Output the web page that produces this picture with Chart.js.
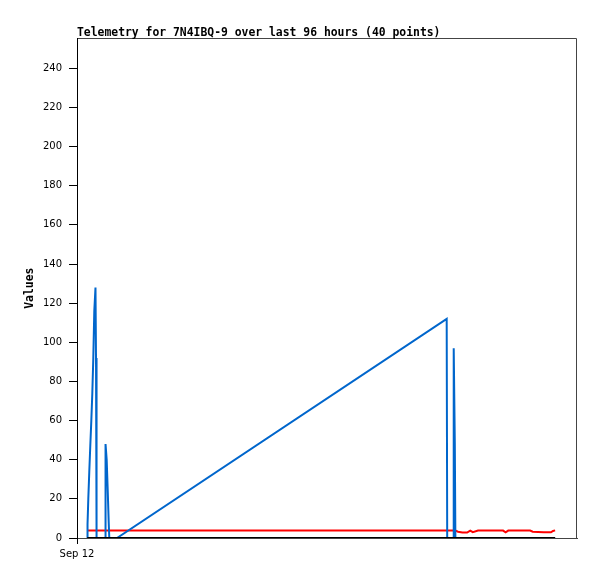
<!DOCTYPE html>
<html>
<head>
<meta charset="utf-8">
<title>Telemetry for 7N4IBQ-9</title>
<script src="https://cdn.jsdelivr.net/npm/chart.js@4.4.1/dist/chart.umd.min.js"></script>
<style>
  html, body { margin: 0; padding: 0; background: #fff; }
  canvas { display: block; }
</style>
</head>
<body>
<canvas id="telemetryChart" width="597" height="579"></canvas>
<script>
// hours since Sep 12 00:00, shared by all three series
const hours = [
  1.96, 2.02, 2.17, 2.36, 2.55, 2.75, 2.94, 3.13, 3.32, 3.55, 3.65, 3.71, 3.80,
  5.38, 5.43, 5.53, 5.70, 5.89, 6.09, 6.20,
  7.68, 70.98, 71.08, 72.23, 72.33, 72.54, 72.65,
  73.15, 74.0, 74.9, 75.5, 76.0, 77.0, 81.8, 82.3, 82.8, 87.0, 87.5, 89.6, 91.0, 91.4, 91.8
];
const blueValues = [
  0, 7, 20, 34, 47, 60, 74, 92, 116, 128, 92, 62, 0,
  0, 25, 48, 40, 25, 8, 0,
  0, 112, 0, 0, 97, 48, 0,
  0, 0, 0, 0, 0, 0, 0, 0, 0, 0, 0, 0, 0, 0, 0
];
const redValues = [
  3.8, 3.8, 3.8, 3.8, 3.8, 3.8, 3.8, 3.8, 3.8, 3.8, 3.8, 3.8, 3.8,
  3.8, 3.8, 3.8, 3.8, 3.8, 3.8, 3.8,
  3.8, 3.8, 3.8, 3.8, 3.8, 3.8, 3.8,
  3.2, 2.8, 2.8, 3.8, 3.0, 3.8, 3.8, 2.9, 3.8, 3.8, 3.2, 2.9, 2.9, 3.6, 3.9
];
const blackValues = [
  0, 0, 0, 0, 0, 0, 0, 0, 0, 0, 0, 0, 0,
  0, 0, 0, 0, 0, 0, 0,
  0, 0, 0, 0, 0, 0, 0,
  0, 0, 0, 0, 0, 0, 0, 0, 0, 0, 0, 0, 0, 0, 0
];
const xTickHours = [0];
const xTickLabels = ['Sep 12'];

const toPoints = vals => hours.map((h, i) => ({ x: h, y: vals[i] }));

// top and right edges of the plot box
const frame = {
  id: 'frame',
  beforeDraw(chart) {
    const { ctx, chartArea: a } = chart;
    ctx.save();
    ctx.strokeStyle = '#444';
    ctx.lineWidth = 1;
    ctx.beginPath();
    ctx.moveTo(Math.round(a.left) + 0.5, Math.round(a.top) + 0.5);
    ctx.lineTo(Math.round(a.right) - 0.5, Math.round(a.top) + 0.5);
    ctx.lineTo(Math.round(a.right) - 0.5, Math.round(a.bottom) + 0.5);
    ctx.stroke();
    ctx.restore();
  }
};

const ctx = document.getElementById('telemetryChart').getContext('2d');
const telemetryChart = new Chart(ctx, {
  type: 'line',
  data: {
    datasets: [
      { label: 'black', data: toPoints(blackValues), borderColor: '#000', borderWidth: 2 },
      { label: 'blue', data: toPoints(blueValues), borderColor: 'rgb(0, 102, 204)', borderWidth: 2 },
      { label: 'red', data: toPoints(redValues), borderColor: '#ff0000', borderWidth: 2 }
    ]
  },
  options: {
    responsive: false,
    animation: false,
    devicePixelRatio: 1,
    elements: { point: { radius: 0 }, line: { tension: 0 } },
    layout: { padding: { left: 0, right: 20, top: 0, bottom: 0 } },
    plugins: {
      legend: { display: false },
      tooltip: { enabled: false },
      title: {
        display: true,
        text: 'Telemetry for 7N4IBQ-9 over last 96 hours (40 points)',
        align: 'start',
        fullSize: false,
        color: '#000',
        font: { family: 'DejaVu Sans Mono', size: 11.4, weight: 'bold', lineHeight: 1 },
        padding: { top: 27, bottom: 0 }
      }
    },
    scales: {
      x: {
        type: 'linear',
        min: 0,
        max: 96,
        afterBuildTicks: s => { s.ticks = xTickHours.map(v => ({ value: v })); },
        afterFit: s => { s.height = 41; },
        ticks: {
          color: '#000',
          font: { family: 'DejaVu Sans', size: 10 },
          padding: 4,
          maxRotation: 0,
          autoSkip: false,
          callback: (v) => xTickLabels[xTickHours.indexOf(v)]
        },
        grid: { drawOnChartArea: false, drawTicks: true, tickLength: 6, color: '#000' },
        border: { display: true, color: '#444', width: 1 }
      },
      y: {
        min: 0,
        max: 255.3,
        afterFit: s => { s.width = 77; },
        ticks: {
          stepSize: 20,
          includeBounds: false,
          color: '#000',
          font: { family: 'DejaVu Sans', size: 10 },
          padding: 7
        },
        grid: { drawOnChartArea: false, drawTicks: true, tickLength: 8, color: '#000' },
        border: { display: true, color: '#000', width: 1 },
        title: {
          display: true,
          text: 'Values',
          color: '#000',
          font: { family: 'DejaVu Sans Mono', size: 11.4, weight: 'bold' },
          padding: { top: 23, bottom: 0 }
        }
      }
    }
  },
  plugins: [frame]
});
</script>
</body>
</html>
